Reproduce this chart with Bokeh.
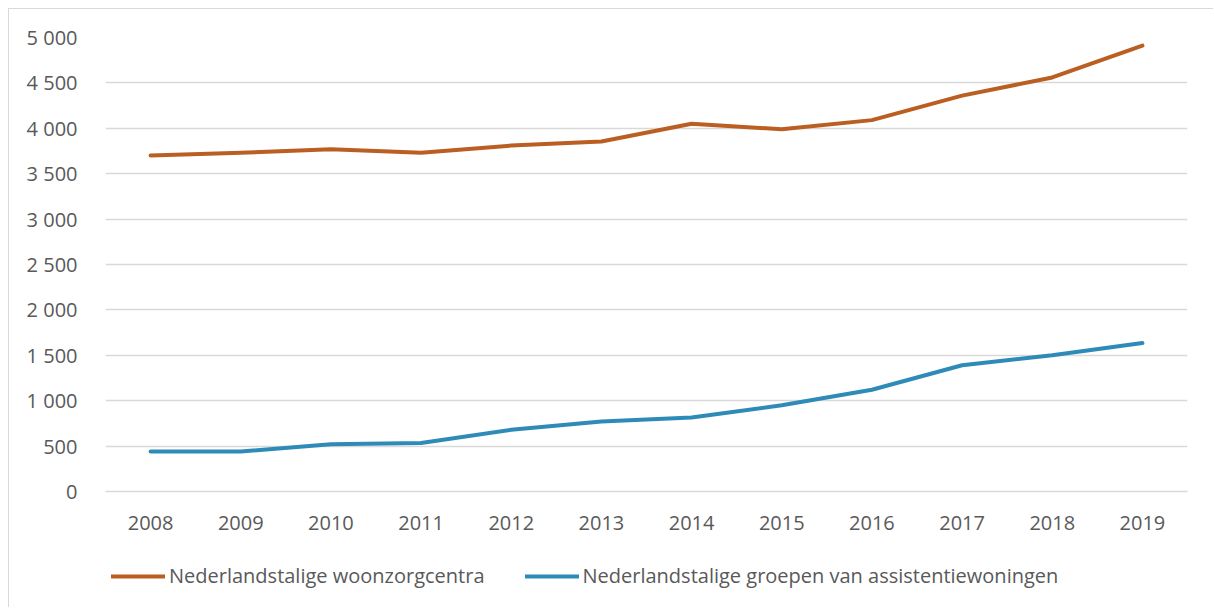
from bokeh.plotting import figure
from bokeh.models import Range1d, FixedTicker, Legend, LegendItem
from bokeh.layouts import column
from bokeh.embed import file_html
from bokeh.resources import INLINE

years = ["2008", "2009", "2010", "2011", "2012", "2013", "2014", "2015", "2016", "2017", "2018", "2019"]
woonzorgcentra = [3700, 3730, 3770, 3730, 3810, 3855, 4050, 3990, 4090, 4360, 4560, 4910]
assistentiewoningen = [440, 440, 520, 535, 680, 770, 815, 950, 1120, 1390, 1500, 1635]
y_ticks = [0, 500, 1000, 1500, 2000, 2500, 3000, 3500, 4000, 4500, 5000]
y_tick_labels = ["0", "500", "1 000", "1 500", "2 000", "2 500", "3 000", "3 500", "4 000", "4 500", "5 000"]
series_names = ["Nederlandstalige woonzorgcentra", "Nederlandstalige groepen van assistentiewoningen"]
series_colors = ["#BA5E22", "#2E8BB8"]

FONT = "Open Sans"
TXT = "#595959"
GRID = "#d9d9d9"

p = figure(x_range=years, y_range=Range1d(0, 5000),
           frame_width=1082, frame_height=454,
           min_border_left=96, min_border_top=28, min_border_right=26, min_border_bottom=50,
           output_backend="svg", toolbar_location=None)
p.outline_line_color = None

p.line(years, woonzorgcentra, line_color=series_colors[0], line_width=4, line_cap="round", line_join="round")
p.line(years, assistentiewoningen, line_color=series_colors[1], line_width=4, line_cap="round", line_join="round")

p.xgrid.grid_line_color = None
p.ygrid.grid_line_color = GRID
p.ygrid.grid_line_width = 1.5
p.yaxis.ticker = FixedTicker(ticks=y_ticks)
p.yaxis.major_label_overrides = {t: l for t, l in zip(y_ticks, y_tick_labels)}
p.yaxis.axis_line_color = None
p.yaxis.major_tick_line_color = None
p.yaxis.minor_tick_line_color = None
p.yaxis.major_label_standoff = 22
p.xaxis.axis_line_color = GRID
p.xaxis.axis_line_width = 1.5
p.xaxis.major_tick_line_color = None
p.xaxis.minor_tick_line_color = None
p.xaxis.major_label_standoff = 18
for ax in (p.xaxis, p.yaxis):
    ax.major_label_text_font = FONT
    ax.major_label_text_font_size = "20px"
    ax.major_label_text_color = TXT

# legend strip below the chart (series drawn out of view; only their legend shows)
lg = figure(width=1204, height=66, x_range=years, y_range=Range1d(-2, -1),
            x_axis_location=None, y_axis_location=None,
            min_border_left=0, min_border_right=0, min_border_top=0, min_border_bottom=0,
            output_backend="svg", toolbar_location=None)
lg.outline_line_color = None
lg.xgrid.grid_line_color = None
lg.ygrid.grid_line_color = None
lr1 = lg.line(years, woonzorgcentra, line_color=series_colors[0], line_width=4, line_cap="round")
lr2 = lg.line(years, assistentiewoningen, line_color=series_colors[1], line_width=4, line_cap="round")
legend = Legend(items=[LegendItem(label=series_names[0], renderers=[lr1]),
                       LegendItem(label=series_names[1], renderers=[lr2])],
                orientation="horizontal", location=(6, 18),
                label_text_font=FONT, label_text_font_size="20px", label_text_color=TXT,
                glyph_width=54, label_standoff=4, spacing=40,
                border_line_color=None, background_fill_alpha=0,
                margin=0, padding=5)
lg.add_layout(legend)

layout = column(p, lg, spacing=0)
layout.styles = {"margin-left": "8px", "margin-top": "8px",
                 "border-top": "1.5px solid #d9d9d9", "border-left": "1.5px solid #d9d9d9"}

open("out.html", "w").write(file_html(layout, INLINE))
